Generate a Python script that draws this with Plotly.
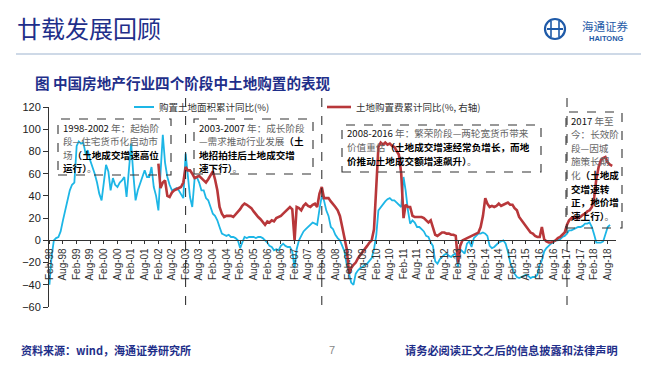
import plotly.graph_objects as go
import pandas as pd

# ---------------- data ----------------
blue_name = "购置土地面积累计同比(%)"
red_name = "土地购置费累计同比(%, 右轴)"

blue_values = [
    -40, -15, 0, 2, 3, 8, 18, 27, 36, 45, 50, 52,
    85, 89, 87, 88, 78, 81, 72, 66, 60, 52, 42, 36,
    55, 68, 62, 45, 56, 50, 48, 52, 54, 57, 39, 60,
    87, 60, 36, 45, 51, 57, 63, 57, 57, 66, 48, 40,
    27, 60, 95, 70, 57, 50, 45, 46, 47, 45, 42, 38,
    78, 57, 39, 30, 55, 57, 52, 45, 45, 38, 36, 30,
    24, 22, 18, 12, 6, 5, 4, 5, 3, 3, 2, 0,
    -7, -2, 3, 2, 3, 3, 3, 2, 3, 3, 2, 0,
    -2, -5, -6, -9, -8, -9, -5, -3, -5, -6, -6, -10,
    -25, -8, 0, 4, 8, 10, 12, 14, 16, 15, 14, 28,
    40, 36, 27, 22, 12, 10, 5, 2, 0, -5, -10, -22,
    -32, -38, -40, -30, -27, -25, -24, -22, -21, -18, -16, -8,
    5, 27, 30, 33, 35, 37, 38, 36, 36, 34, 32, 30,
    57, 45, 27, 15, 18, 16, 12, 12, 10, 8, 4, 3,
    -2, -5, -19, -21, -17, -15, -13, -12, -14, -15, -13, -12,
    -24, -8, -10, -12, -3, -1, -6, 2, 4, 6, 6, 7,
    6, 4, -5, -7, -6, -4, -2, -1, 0, -3, -10, -20,
    -25, -30, -33, -34, -33, -32, -31, -32, -34, -33, -33, -31,
    -22, -18, -10, -7, -5, -3, -2, 0, 0, 1, 3, 4,
    6, 9, 9, 10, 11, 12, 12, 13, 15, 15, 16, 12,
    5, -2, -2, -2, -1, 5, 12, 14,
]

red_values = [
    69, 47, 52, 54, 40, 39, 43, 45, 46, 47, 48, 52,
    66, 63, 63, 60, 56, 57, 58, 56, 54, 52, 55, 58,
    62, 55, 45, 30, 24, 21, 22, 22, 22, 21, 23, 25,
    28, 31, 33, 32, 30, 29, 26, 23, 21, 19, 16, 14,
    17, 16, 18, 17, 20, 21, 22, 24, 26, 28, 30, 28,
    0, 30, 29, 27, 31, 33, 31, 30, 32, 33, 30, 42,
    48, 38, 38, 38, 35, 33, 30, 27, 22, 12, 2, -8,
    -30, -25, -22, -20, -16, -13, -11, -8, -5, -2, 0, 10,
    55, 84, 88, 86, 88, 86, 87, 85, 84, 80, 77, 60,
    20, 32, 30, 30, 22, 21, 21, 21, 21, 20, 18, 16,
    18, 12, 5, 4, 6, 7, 7, 6, 6, 5, 5, 4,
    -20, -5, 0, 1, 2, 3, 4, 5, 6, 7, 12, 22,
    38, 33, 30, 31, 30, 31, 33, 31, 32, 33, 34, 32,
    32, 29, 27, 21, 18, 15, 12, 9, 7, 6, 4, 3,
    3, 12, 1, -1, -2, -2, -1, 0, 2, 3, 5, 7,
    14, 18, 20, 21, 20, 20, 21, 23, 24, 26, 27, 30,
    39, 55, 66, 72, 74, 75, 70, 68, 67,
]

blue_start = "1998-02-01"
red_start = "2002-02-01"
months_blue = pd.date_range(blue_start, periods=len(blue_values), freq="MS")
months_red = pd.date_range(red_start, periods=len(red_values), freq="MS")

stage_breaks = ["2003-02-01", "2008-02-01", "2017-02-01"]
tick_dates = pd.date_range("1998-02-01", "2018-08-01", freq="6MS")
y_ticks = list(range(-60, 121, 20))

B_ = "<b style='color:#000'>"
stage_lines = [
    ["<span style='color:#111'>1998-2002</span> 年：起始阶",
     "段—住宅货币化启动市",
     "场" + B_ + "（土地成交增速高位</b>",
     B_ + "运行）</b>。"],
    ["<span style='color:#111'>2003-2007</span> 年：成长阶段",
     "—需求推动行业发展" + B_ + "（土</b>",
     B_ + "地招拍挂后土地成交增</b>",
     B_ + "速下行）</b>。"],
    ["<span style='color:#111'>2008-2016</span> 年：繁荣阶段—两轮宽货币带来",
     "价值重估" + B_ + "（土地成交增速经常负增长，而地</b>",
     B_ + "价推动土地成交额增速飙升）</b>。"],
    ["<span style='color:#111'>2017</span> 年至",
     "今：长效阶",
     "段—因城",
     "施策长期",
     "化" + B_ + "（土地成</b>",
     B_ + "交增速转</b>",
     B_ + "正，地价增</b>",
     B_ + "速上行）</b>。"],
]

# ---------------- layout helpers (page pixel coordinates) ----------------
OFF = 8                      # body margin of the html page
PAGE_W, PAGE_H = 660, 366
W, H = PAGE_W - OFF, PAGE_H - OFF
PLOT_X0, PLOT_X1 = 49, 616   # page pixels of the plot area
PLOT_Y0, PLOT_Y1 = 107, 307
L = PLOT_X0 - OFF
R = W - (PLOT_X1 - OFF)
T = PLOT_Y0 - OFF
B = H - (PLOT_Y1 - OFF)
PW, PH = PLOT_X1 - PLOT_X0, PLOT_Y1 - PLOT_Y0


def px(x):
    return (x - PLOT_X0) / PW


def py(y):
    return (PLOT_Y1 - y) / PH


BLUE = "#1DB6E6"
RED = "#B8373A"
NAVY = "#1F2F8A"
CJK = "Noto Sans CJK SC"

fig = go.Figure()
fig.add_trace(go.Scatter(x=months_blue, y=blue_values, mode="lines", name=blue_name,
                         line=dict(color=BLUE, width=1.8), yaxis="y"))
fig.add_trace(go.Scatter(x=months_red, y=red_values, mode="lines", name=red_name,
                         line=dict(color=RED, width=2.6), yaxis="y2"))

shapes = []
annotations = []

# stage boundary dashed lines
for d in stage_breaks:
    shapes.append(dict(type="line", xref="x", yref="paper", x0=d, x1=d,
                       y0=py(305), y1=py(98), line=dict(color="#222", width=1, dash="dash")))

# stage boxes
boxes = [(58, 119, 171, 175), (194, 119, 313, 174), (342, 125, 541, 172), (566, 112, 622, 228)]
FS = 9.6
LINE_H = 13.6
for (x0, y0, x1, y1), lines in zip(boxes, stage_lines):
    shapes.append(dict(type="rect", xref="paper", yref="paper",
                       x0=px(x0), x1=px(x1), y0=py(y1), y1=py(y0),
                       line=dict(color="#333", width=1.1, dash="dash"),
                       fillcolor="rgba(255,255,255,0)"))
    for i, ln in enumerate(lines):
        annotations.append(dict(xref="paper", yref="paper", x=px(x0 + 3),
                                y=py(y0 + 8.5 + i * LINE_H),
                                xanchor="left", yanchor="middle", align="left",
                                showarrow=False, text=ln,
                                font=dict(family=CJK, size=FS, color="#666")))

# manual legend
legend_y = 107
shapes.append(dict(type="line", xref="paper", yref="paper", x0=px(134), x1=px(154),
                   y0=py(legend_y), y1=py(legend_y), line=dict(color=BLUE, width=2)))
shapes.append(dict(type="line", xref="paper", yref="paper", x0=px(327), x1=px(351),
                   y0=py(legend_y), y1=py(legend_y), line=dict(color=RED, width=2.6)))
annotations.append(dict(xref="paper", yref="paper", x=px(157), y=py(legend_y), xanchor="left",
                        yanchor="middle", showarrow=False, text=blue_name,
                        font=dict(family=CJK, size=9.5, color="#333")))
annotations.append(dict(xref="paper", yref="paper", x=px(354), y=py(legend_y), xanchor="left",
                        yanchor="middle", showarrow=False, text=red_name,
                        font=dict(family=CJK, size=9.5, color="#333")))

# chart title
annotations.append(dict(xref="paper", yref="paper", x=px(33), y=py(83), xanchor="left",
                        yanchor="middle", showarrow=False,
                        text="<b>图 中国房地产行业四个阶段中土地购置的表现</b>",
                        font=dict(family=CJK, size=14.6, color=NAVY)))

# page header
annotations.append(dict(xref="paper", yref="paper", x=px(15), y=py(27), xanchor="left",
                        yanchor="middle", showarrow=False, text="廿载发展回顾",
                        font=dict(family=CJK, size=24, color=NAVY)))
shapes.append(dict(type="line", xref="paper", yref="paper", x0=px(16), x1=px(641),
                   y0=py(54), y1=py(54), line=dict(color="#9DB3CF", width=1.2)))

# logo
LOGO = "#1E5AA8"
cx, cy, r = 555, 29, 10
shapes.append(dict(type="circle", xref="paper", yref="paper", x0=px(cx - r), x1=px(cx + r),
                   y0=py(cy + r), y1=py(cy - r), line=dict(color=LOGO, width=2.2)))
shapes.append(dict(type="line", xref="paper", yref="paper", x0=px(cx - 8), x1=px(cx + 8),
                   y0=py(cy), y1=py(cy), line=dict(color=LOGO, width=2)))
for dx in (-4, 4):
    shapes.append(dict(type="line", xref="paper", yref="paper", x0=px(cx + dx), x1=px(cx + dx),
                       y0=py(cy + 8), y1=py(cy - 8), line=dict(color=LOGO, width=1.6)))
annotations.append(dict(xref="paper", yref="paper", x=px(580), y=py(26), xanchor="left",
                        yanchor="middle", showarrow=False, text="海通证券",
                        font=dict(family=CJK, size=11.5, color=LOGO)))
annotations.append(dict(xref="paper", yref="paper", x=px(587), y=py(39), xanchor="left",
                        yanchor="middle", showarrow=False, text="<b>HAITONG</b>",
                        font=dict(family="Liberation Sans", size=7.5, color=LOGO)))

# footer
annotations.append(dict(xref="paper", yref="paper", x=px(19), y=py(350), xanchor="left",
                        yanchor="middle", showarrow=False,
                        text="<b>资料来源：wind，海通证券研究所</b>",
                        font=dict(family=CJK, size=11, color=NAVY)))
annotations.append(dict(xref="paper", yref="paper", x=px(332), y=py(350), xanchor="center",
                        yanchor="middle", showarrow=False, text="7",
                        font=dict(family="Liberation Sans", size=11, color="#888")))
annotations.append(dict(xref="paper", yref="paper", x=px(403), y=py(350), xanchor="left",
                        yanchor="middle", showarrow=False,
                        text="<b>请务必阅读正文之后的信息披露和法律声明</b>",
                        font=dict(family=CJK, size=11.2, color=NAVY)))

fig.update_layout(
    width=W, height=H, autosize=False,
    margin=dict(l=L, r=R, t=T, b=B, pad=0),
    paper_bgcolor="white", plot_bgcolor="white",
    showlegend=False,
    shapes=shapes, annotations=annotations,
    xaxis=dict(type="date", range=["1998-01-26", "2018-11-20"],
               tickvals=list(tick_dates), tickformat="%b-%y", tickangle=-90,
               anchor="free", position=60 / 180,
               showline=True, linecolor="#333", linewidth=1,
               ticks="outside", ticklen=3, tickcolor="#333",
               tickfont=dict(family="Liberation Sans", size=10, color="#333"),
               showgrid=False, zeroline=False),
    yaxis=dict(range=[-60, 120], tickvals=y_ticks,
               showline=True, linecolor="#333", linewidth=1,
               ticks="outside", ticklen=5, tickcolor="#333",
               tickfont=dict(family="Liberation Sans", size=11, color="#222"),
               showgrid=False, zeroline=False),
    yaxis2=dict(range=[-60, 120], overlaying="y", side="right", visible=False),
)

fig.write_html("out.html")
